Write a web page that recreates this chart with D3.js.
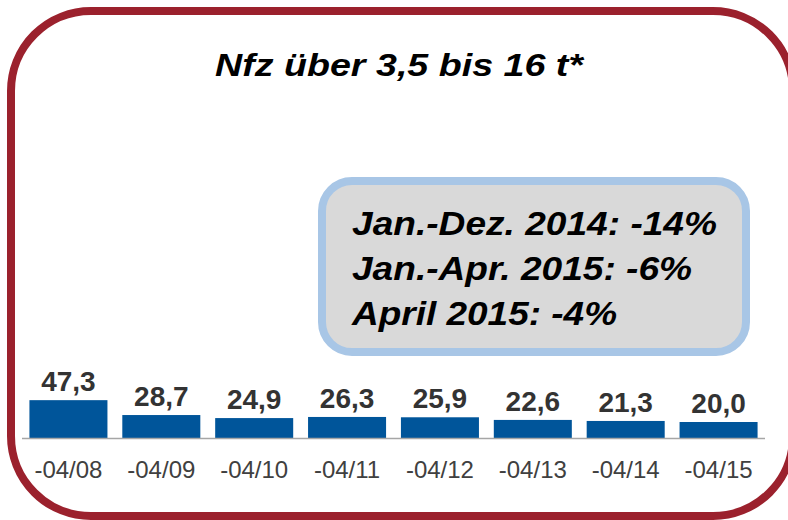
<!DOCTYPE html>
<html>
<head>
<meta charset="utf-8">
<script src="https://cdn.jsdelivr.net/npm/d3@7"></script>
<style>
  html, body { margin: 0; padding: 0; background: #fff; }
  svg { display: block; }
  text { font-family: Arial, "Liberation Sans", sans-serif; }
</style>
</head>
<body>
<svg id="chart" width="788" height="520"></svg>
<script>
const title = "Nfz über 3,5 bis 16 t*";
const categories = ["-04/08", "-04/09", "-04/10", "-04/11", "-04/12", "-04/13", "-04/14", "-04/15"];
const values = [47.3, 28.7, 24.9, 26.3, 25.9, 22.6, 21.3, 20.0];
const boxLines = ["Jan.-Dez. 2014: -14%", "Jan.-Apr. 2015: -6%", "April 2015: -4%"];
const fmt = v => v.toFixed(1).replace(".", ",");

const svg = d3.select("#chart");

// outer rounded frame
svg.append("rect")
  .attr("x", 11).attr("y", 11).attr("width", 782).attr("height", 505)
  .attr("rx", 80).attr("ry", 80)
  .attr("fill", "#fff").attr("stroke", "#9b212d").attr("stroke-width", 8);

// title
svg.append("text")
  .attr("x", 215).attr("y", 76)
  .attr("font-size", 32).attr("font-weight", "bold").attr("font-style", "italic")
  .attr("fill", "#000")
  .attr("textLength", 368).attr("lengthAdjust", "spacingAndGlyphs")
  .text(title);

// info box
svg.append("rect")
  .attr("x", 322).attr("y", 181).attr("width", 424).attr("height", 171)
  .attr("rx", 30).attr("ry", 30)
  .attr("fill", "#d9d9d9").attr("stroke", "#a8c6e6").attr("stroke-width", 8);

const boxWidths = [365, 340, 265];
svg.selectAll("text.box").data(boxLines).join("text")
  .attr("class", "box")
  .attr("x", 352).attr("y", (d, i) => 235 + i * 45)
  .attr("font-size", 34).attr("font-weight", "bold").attr("font-style", "italic")
  .attr("fill", "#000")
  .attr("textLength", (d, i) => boxWidths[i]).attr("lengthAdjust", "spacingAndGlyphs")
  .text(d => d);

// scales
const x = d3.scaleBand().domain(categories).range([22, 765]).paddingInner(0.16).paddingOuter(0.08);
const y = d3.scaleLinear().domain([0, 60]).range([438, 390]);

// bars
svg.selectAll("rect.bar").data(values).join("rect")
  .attr("class", "bar")
  .attr("x", (d, i) => x(categories[i]))
  .attr("y", d => y(d))
  .attr("width", x.bandwidth())
  .attr("height", d => y(0) - y(d))
  .attr("fill", "#00559a");

// baseline axis
const xAxis = svg.append("g").attr("transform", `translate(0,${y(0)})`)
  .call(d3.axisBottom(x).tickSize(0).tickPadding(0));
xAxis.select(".domain").attr("stroke", "#a6a6a6").attr("stroke-width", 1.5)
  .attr("d", "M22,0.5H765");
xAxis.selectAll(".tick text")
  .attr("y", 40).attr("dy", 0)
  .attr("font-size", 24).attr("fill", "#404040")
  .attr("font-family", "Arial, 'Liberation Sans', sans-serif");

// value labels
svg.selectAll("text.val").data(values).join("text")
  .attr("class", "val")
  .attr("x", (d, i) => x(categories[i]) + x.bandwidth() / 2)
  .attr("y", d => y(d) - 9)
  .attr("text-anchor", "middle")
  .attr("font-size", 28).attr("font-weight", "bold").attr("fill", "#333")
  .text(d => fmt(d));
</script>
</body>
</html>
